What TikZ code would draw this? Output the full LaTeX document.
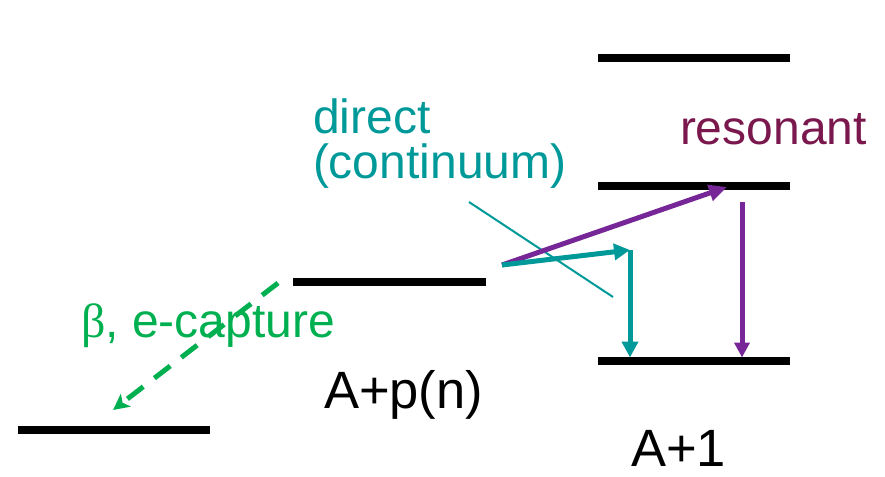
\documentclass[tikz,border=0pt]{standalone}
\usepackage{fontspec}
\setmainfont{Liberation Sans}
\newfontfamily\grkfont{Liberation Serif}
\usetikzlibrary{arrows.meta}
\definecolor{tealc}{RGB}{0,153,153}
\definecolor{purpc}{RGB}{118,38,150}
\definecolor{maroonc}{RGB}{122,24,78}
\definecolor{greenc}{RGB}{0,176,80}
\tikzset{
  level/.style={line width=7.5pt, line cap=butt, black},
  lbl/.style={anchor=base west, inner sep=0pt, outer sep=0pt},
  colfont/.style={font=\fontsize{48pt}{45pt}\selectfont},
  blkfont/.style={font=\fontsize{52.5pt}{50pt}\selectfont},
  purparrow/.style={purpc, line width=5pt, -{Triangle[length=18pt,width=16pt]}},
  tealarrow/.style={tealc, line width=5pt, -{Triangle[length=16pt,width=16pt]}},
  greenarrow/.style={greenc, line width=5pt, dash pattern=on 20pt off 14pt, -{Stealth[length=16pt,width=16pt,inset=4pt]}},
}
\begin{document}
\begin{tikzpicture}[x=1pt,y=-1pt]
\useasboundingbox (0,0) rectangle (885,476);
% level end points
\coordinate (bl1) at (18,430);  \coordinate (bl2) at (210,430);
\coordinate (ml1) at (293,282); \coordinate (ml2) at (486,282);
\coordinate (rt1) at (598,58);  \coordinate (rt2) at (790,58);
\coordinate (rm1) at (598,186); \coordinate (rm2) at (790,186);
\coordinate (rb1) at (598,361); \coordinate (rb2) at (790,361);
\draw[level] (bl1) -- (bl2);
\draw[level] (ml1) -- (ml2);
\draw[level] (rt1) -- (rt2);
\draw[level] (rm1) -- (rm2);
\draw[level] (rb1) -- (rb2);
% arrow points
\coordinate (src) at (502,265);
\coordinate (ptip) at (727,187);
\coordinate (ttip) at (630,250);
\coordinate (tbot) at (630,357.5);
\coordinate (ptop) at (742,202);
\coordinate (pbot) at (742,357.5);
\coordinate (thinA) at (469,202);
\coordinate (thinB) at (613,297);
\coordinate (gA) at (278,283);
\coordinate (gB) at (113,410);
% connectors
\draw[tealc, line width=2pt] (thinA) -- (thinB);
\draw[purparrow] (src) -- (ptip);
\draw[tealarrow] (src) -- (ttip);
\draw[tealarrow] (ttip) -- (tbot);
\draw[purparrow, -{Triangle[length=15pt,width=15pt]}] (ptop) -- (pbot);
\draw[greenarrow] (gA) -- (gB);
% labels
\node[lbl, colfont, text=tealc] (direct) at (313,133) {direct};
\node[lbl, colfont, text=tealc] (cont) at (313,178) {(continuum)};
\node[lbl, colfont, text=maroonc] (res) at (680,144) {resonant};
\node[lbl, colfont, text=greenc] (beta) at (81,337) {{\grkfont β}, e-capture};
\node[lbl, blkfont] (apn) at (324,408) {A+p(n)};
\node[lbl, blkfont] (a1) at (631,466) {A+1};
\end{tikzpicture}
\end{document}
